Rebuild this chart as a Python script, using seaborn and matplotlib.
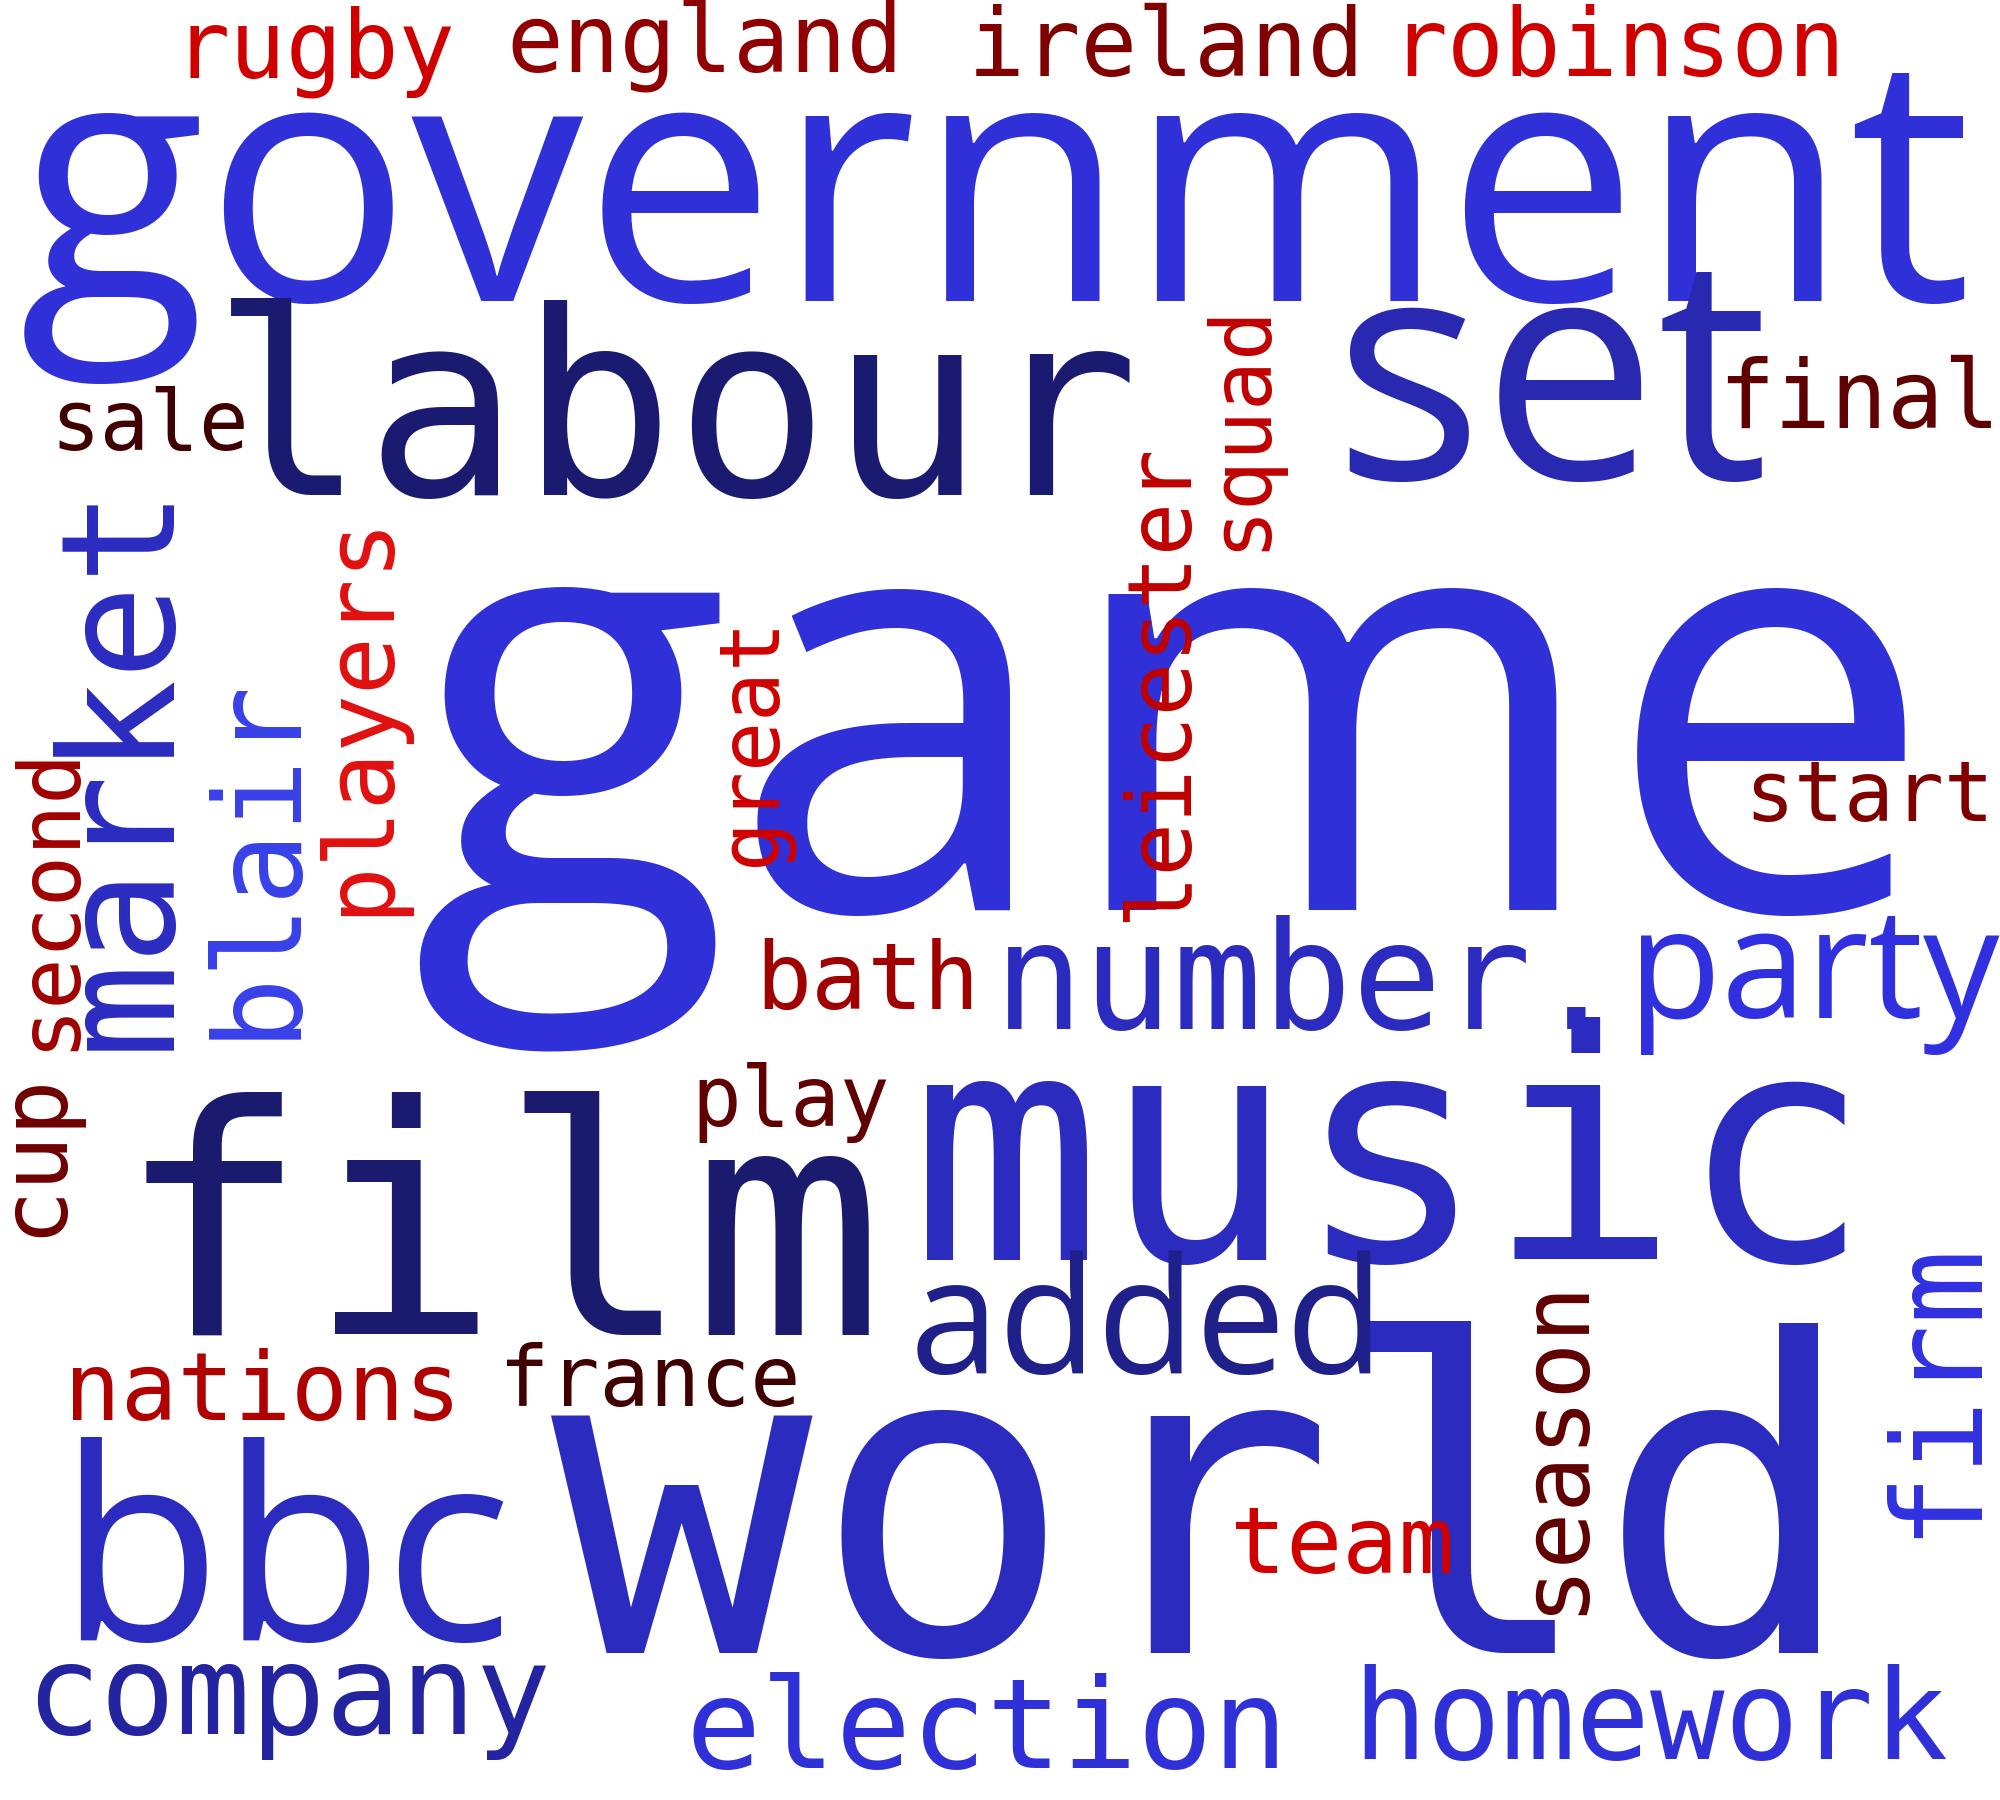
import matplotlib
matplotlib.use("Agg")
import matplotlib.pyplot as plt
import seaborn as sns
import pandas as pd

sns.set_theme(style="white")

words = ["game", "government", "labour", "set", "film", "music", "world", "bbc",
         "number.", "party", "added", "company", "election", "homework", "market",
         "blair", "players", "great", "second", "cup", "leicester", "squad", "season",
         "firm", "sale", "final", "start", "bath", "play", "nations", "france", "team",
         "rugby", "england", "ireland", "robinson"]
weights = [100, 52, 45, 40, 50, 52, 66, 40, 20, 22, 26, 17, 19, 20, 24, 18, 14, 13,
           13, 13, 14, 13, 15, 19, 13, 15, 13, 16, 13, 15, 14, 15, 15, 16, 16, 16]
colors = ["#3030D8", "#3030D8", "#1A1A70", "#2828B0", "#1A1A6E", "#2B2BC0", "#2B2BC0",
          "#2B2BC0", "#2B2BC0", "#3030E0", "#20208A", "#2424A0", "#3030D8", "#3030D8",
          "#2B2BC0", "#3840E8", "#E01010", "#D00000", "#A00000", "#700000", "#C00000",
          "#C00000", "#600000", "#3030E0", "#400000", "#600000", "#800000", "#A00000",
          "#600000", "#B00000", "#400000", "#D00000", "#D00000", "#900000", "#800000",
          "#D00000"]

# layout (display coords of a 1560x1410 frame): center x, center y, extent along text, vertical?
layout = [
    (915, 590, 1190, 0), (777, 165, 1525, 0), (527, 330, 725, 0), (1210, 310, 340, 0),
    (390, 972, 600, 0), (1085, 913, 750, 0), (940, 1195, 1020, 0), (222, 1225, 355, 0),
    (1020, 770, 490, 0), (1415, 763, 290, 0), (895, 1038, 370, 0), (225, 1325, 410, 0),
    (770, 1352, 470, 0), (1287, 1345, 465, 0), (95, 597, 445, 1), (200, 668, 285, 1),
    (280, 557, 315, 1), (586, 578, 195, 1), (38, 700, 240, 1), (26, 900, 130, 1),
    (905, 532, 375, 1), (967, 332, 195, 1), (1212, 1127, 265, 1), (1510, 1082, 235, 1),
    (117, 333, 155, 0), (1450, 313, 220, 0), (1458, 622, 195, 0), (677, 767, 175, 0),
    (617, 860, 155, 0), (205, 1087, 310, 0), (507, 1078, 235, 0), (1047, 1207, 175, 0),
    (245, 40, 220, 0), (550, 35, 310, 0), (910, 38, 310, 0), (1262, 38, 355, 0),
]
sans_words = {"game", "government", "set", "bbc", "party", "added"}

df = pd.DataFrame({"word": words, "weight": weights, "color": colors})

W = 1560
S = 2000 / W
fig = plt.figure(figsize=(20, 18), dpi=100)
ax = fig.add_axes([0, 0, 1, 1])
ax.set_xlim(0, W)
ax.set_ylim(1800 / S, 0)
ax.axis("off")
fig.patch.set_facecolor("white")

renderer = fig.canvas.get_renderer()
for (w, c), (cx, cy, ext, vert) in zip(zip(df["word"], df["color"]), layout):
    fam = "Open Sans" if w in sans_words else "DejaVu Sans Mono"
    t = ax.text(cx, cy, w, color=c, fontsize=100, family=fam,
                ha="center", va="center", rotation=90 if vert else 0)
    bb = t.get_window_extent(renderer)
    cur = bb.height if vert else bb.width
    t.set_fontsize(100 * ext * S / cur)

fig.savefig("out.png", dpi=100, facecolor="white")
